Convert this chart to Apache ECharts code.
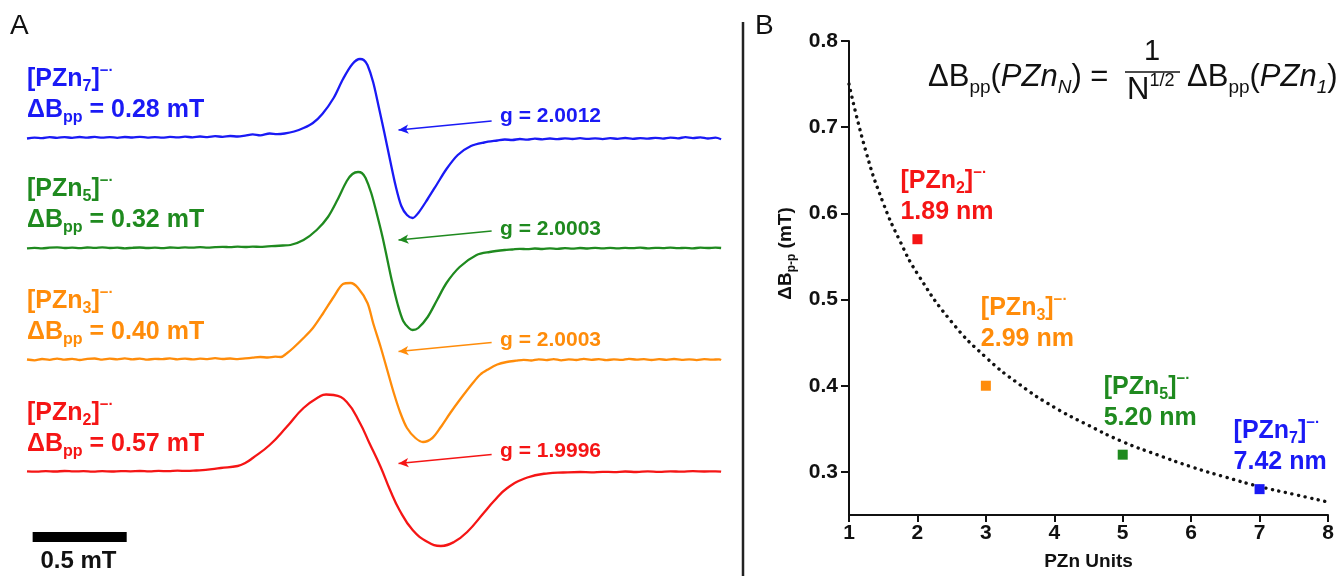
<!DOCTYPE html>
<html><head><meta charset="utf-8">
<script src="https://cdn.jsdelivr.net/npm/echarts@6/dist/echarts.min.js"></script>
<style>html,body{margin:0;padding:0;background:#fff}#c{width:1341px;height:576px}</style>
</head><body><div id="c"></div>
<script>
const FONT = '"Liberation Sans", Arial, Helvetica, sans-serif';

// ---------- Panel A data : EPR derivative spectra (field in mT, intensity a.u.) ----------
const specPZn7 = [[0.00,-0.5],[0.04,0.3],[0.08,-0.2],[0.12,0.8],[0.16,0.2],[0.20,0.9],[0.24,0.1],[0.28,1.0],[0.32,0.4],[0.36,1.1],[0.40,0.3],[0.44,0.9],[0.48,0.2],[0.52,1.0],[0.56,0.5],[0.60,1.2],[0.64,0.4],[0.68,0.8],[0.72,0.3],[0.76,1.1],[0.80,0.6],[0.84,1.3],[0.88,0.7],[0.92,1.5],[0.96,0.9],[1.00,1.8],[1.04,1.2],[1.08,2.0],[1.12,1.5],[1.16,2.4],[1.20,3.6],[1.24,2.6],[1.29,4.5],[1.33,3.8],[1.37,4.5],[1.42,6.5],[1.47,10],[1.52,15],[1.57,24],[1.63,40],[1.68,59],[1.73,74],[1.77,79],[1.79,78],[1.81,73],[1.84,56],[1.87,31],[1.90,5],[1.93,-22],[1.96,-48],[1.99,-68],[2.02,-77],[2.05,-80],[2.08,-75],[2.13,-61],[2.18,-46],[2.23,-31],[2.29,-17],[2.36,-8],[2.43,-4.5],[2.50,-2.5],[2.54,-1.5],[2.58,-2],[2.62,-1],[2.66,-1.6],[2.70,-0.6],[2.74,-1.4],[2.78,-0.5],[2.82,-1.2],[2.86,-0.3],[2.90,-1],[2.94,-0.2],[2.98,-0.9],[3.02,-0.3],[3.06,-1.1],[3.10,-0.2],[3.14,-0.8],[3.18,0],[3.22,-0.9],[3.26,-0.1],[3.30,-0.7],[3.34,0.2],[3.38,-0.6],[3.42,0.4],[3.46,-0.3],[3.50,0.8],[3.54,-0.1],[3.58,0.6],[3.62,-0.5],[3.66,0.3],[3.69,-1.2]];
const specPZn5 = [[0.00,-0.3],[0.04,0.2],[0.08,-0.4],[0.12,0.3],[0.16,0.6],[0.20,0],[0.24,0.4],[0.28,-0.2],[0.32,0.5],[0.36,0.1],[0.40,0.6],[0.44,0],[0.48,0.3],[0.52,-0.3],[0.56,0.2],[0.60,0.5],[0.64,0],[0.68,0.4],[0.72,-0.1],[0.76,0.5],[0.80,0.2],[0.84,0.6],[0.88,0.3],[0.92,0.8],[0.96,0.4],[1.00,0.9],[1.04,1.2],[1.08,0.8],[1.12,1.3],[1.16,1.0],[1.20,1.4],[1.24,1.1],[1.28,1.6],[1.32,2.0],[1.36,2.5],[1.40,3],[1.47,8],[1.54,18],[1.60,31],[1.65,48],[1.70,67],[1.73,74],[1.76,76],[1.78,75],[1.80,70],[1.83,55],[1.86,34],[1.89,11],[1.915,-11],[1.94,-33],[1.97,-56],[2.00,-73],[2.03,-80],[2.05,-82],[2.08,-80],[2.13,-69],[2.18,-52],[2.23,-35],[2.30,-19],[2.39,-7],[2.46,-4],[2.54,-2],[2.58,-1.5],[2.62,-0.8],[2.66,-1.2],[2.70,-0.5],[2.74,-1],[2.78,-0.3],[2.82,-0.8],[2.86,-0.2],[2.90,-0.6],[2.94,0],[2.98,-0.5],[3.02,0.1],[3.06,-0.3],[3.10,0.2],[3.14,-0.4],[3.18,0.1],[3.22,-0.2],[3.26,0.3],[3.30,-0.3],[3.34,0.2],[3.38,-0.1],[3.42,0.3],[3.46,-0.2],[3.50,0.2],[3.54,-0.3],[3.58,0.3],[3.62,0],[3.66,0.4],[3.69,0]];
const specPZn3 = [[0.00,0],[0.04,-0.8],[0.08,0.5],[0.12,-0.3],[0.16,0.9],[0.20,-0.2],[0.24,0.7],[0.28,-0.5],[0.32,0.6],[0.36,1.0],[0.40,-0.1],[0.44,0.8],[0.48,0.2],[0.52,1.1],[0.56,0.1],[0.60,0.9],[0.64,-0.2],[0.68,0.7],[0.72,0.3],[0.76,1.2],[0.80,0.2],[0.84,0.9],[0.88,0.1],[0.92,0.8],[0.96,0.4],[1.00,1.3],[1.04,0.5],[1.08,1.0],[1.12,0.4],[1.16,1.1],[1.20,1.8],[1.24,2.5],[1.28,2.0],[1.32,2.8],[1.35,2.5],[1.38,6],[1.415,11.5],[1.47,21.5],[1.52,31.5],[1.575,46.5],[1.63,62.5],[1.68,75.5],[1.72,76.5],[1.76,71.5],[1.81,56.5],[1.84,36.5],[1.88,12.5],[1.915,-10.5],[1.95,-33.5],[1.985,-53.5],[2.02,-68.5],[2.065,-78.5],[2.105,-82.5],[2.155,-78.5],[2.20,-67.5],[2.25,-53.5],[2.30,-40.5],[2.37,-23.5],[2.41,-15],[2.45,-10],[2.50,-5],[2.55,-2.5],[2.60,-1.2],[2.64,-0.3],[2.68,-1.0],[2.72,0.2],[2.76,-0.6],[2.80,0.4],[2.84,-0.8],[2.88,0.1],[2.92,-0.5],[2.96,0.6],[3.00,-0.3],[3.04,0.3],[3.08,-0.7],[3.12,0.2],[3.16,-0.4],[3.20,0.7],[3.24,-0.2],[3.28,0.4],[3.32,-0.5],[3.36,0.3],[3.40,-0.3],[3.44,0.5],[3.48,-0.4],[3.52,0.2],[3.56,-0.6],[3.60,0.3],[3.64,-0.2],[3.68,0.2],[3.69,-0.5]];
const specPZn2 = [[0.00,0.2],[0.05,-0.2],[0.10,0.4],[0.15,0],[0.20,0.5],[0.25,0.1],[0.30,0.3],[0.35,-0.1],[0.40,0.3],[0.45,0],[0.50,0.4],[0.55,0.2],[0.60,0.5],[0.65,0.1],[0.70,0.6],[0.75,0.3],[0.80,0.8],[0.85,0.6],[0.90,1.0],[0.95,1.6],[1.03,3.5],[1.12,5.5],[1.16,8.5],[1.20,13.5],[1.29,26.5],[1.38,44.5],[1.47,63.5],[1.56,75.5],[1.59,77],[1.63,76.5],[1.70,69.5],[1.77,48.5],[1.82,28.5],[1.88,4.5],[1.93,-18.5],[1.98,-38.5],[2.05,-58.5],[2.13,-70.5],[2.20,-74.5],[2.27,-70.5],[2.34,-60.5],[2.43,-41],[2.48,-30],[2.55,-17],[2.66,-6],[2.77,-1.8],[2.85,-1],[2.94,-0.5],[3.00,-0.8],[3.06,-0.3],[3.12,-0.6],[3.18,0],[3.24,-0.5],[3.30,0.1],[3.36,-0.3],[3.42,0.2],[3.48,-0.2],[3.54,0.3],[3.60,0],[3.66,0.2],[3.69,-0.2]];

const spectraSub = ['7', '5', '3', '2'];
const spectraWidths = ['0.28', '0.32', '0.40', '0.57'];
const gValues = ['2.0012', '2.0003', '2.0003', '1.9996'];
const spectraOffsets = [422, 312, 200.5, 88.5];
const spectra = [specPZn7, specPZn5, specPZn3, specPZn2];
const scaleBarField = [0.03, 0.53];   // 0.5 mT
const scaleBarLevel = 23;
const arrowTail = [2.47, 17];
const arrowTip = [1.975, 8];

// ---------- Panel B data ----------
const pznUnits = [2, 3, 5, 7];
const dBpp = [0.57, 0.40, 0.32, 0.28];
const pointSub = ['2', '3', '5', '7'];
const conjLength = ['1.89 nm', '2.99 nm', '5.20 nm', '7.42 nm'];
const fitN = [1, 1.25, 1.5, 1.75, 2, 2.5, 3, 3.5, 4, 4.5, 5, 5.5, 6, 6.5, 7, 7.5, 8];
const fitVal = [0.750, 0.671, 0.612, 0.567, 0.530, 0.474, 0.433, 0.401, 0.375, 0.354, 0.335, 0.320, 0.306, 0.294, 0.283, 0.274, 0.265];
const xTicks = [1, 2, 3, 4, 5, 6, 7, 8];
const yTicks = [0.3, 0.4, 0.5, 0.6, 0.7, 0.8];

// ---------- styling ----------
const specColors = ['#1a1af5', '#1f8a1f', '#ff8c0a', '#f51515'];
const specSmooth = [0.3, 0.3, 0.3, 0.45];
const pointColors = ['#f51515', '#ff8c0a', '#1f8a1f', '#1a1af5'];
const labelOffsets = [[-17, -1.5], [-5, -21.5], [-19, -11.5], [-26, -1.5]];
const labelTopsA = [63.5, 173.5, 285.5, 397.5];
const gLabelY = [116.5, 229.5, 340, 451.5];
const INK = '#111';

const chart = echarts.init(document.getElementById('c'), null, {renderer: 'canvas'});

const series = [];
spectra.forEach((sp, i) => {
  const off = spectraOffsets[i];
  series.push({
    type: 'line', xAxisIndex: 0, yAxisIndex: 0,
    data: sp.map(p => [p[0], p[1] + off]),
    showSymbol: false, symbol: 'none', smooth: specSmooth[i],
    lineStyle: {color: specColors[i], width: 2.3, join: 'round'},
    silent: true, z: 3,
    markLine: {
      silent: true, symbol: ['none', 'arrow'], symbolSize: [7, 10],
      label: {show: false},
      lineStyle: {color: specColors[i], width: 1.3, type: 'solid', opacity: 1},
      data: [[{coord: [arrowTail[0], off + arrowTail[1]]}, {coord: [arrowTip[0], off + arrowTip[1]]}]]
    }
  });
});
series.push({
  type: 'line', xAxisIndex: 0, yAxisIndex: 0,
  data: scaleBarField.map(f => [f, scaleBarLevel]),
  symbol: 'none', lineStyle: {color: '#000', width: 10, cap: 'butt'}, silent: true
});
series.push({
  type: 'line', xAxisIndex: 1, yAxisIndex: 1,
  data: fitN.map((n, i) => [n, fitVal[i]]),
  smooth: true, symbol: 'none', silent: true, z: 2,
  lineStyle: {color: INK, width: 3.4, type: [0.1, 6.6], cap: 'round'}
});

const richLabel = {
  a: {fontSize: 25, fontWeight: 'bold', fontFamily: FONT, lineHeight: 31},
  s: {fontSize: 16, fontWeight: 'bold', fontFamily: FONT, lineHeight: 10, verticalAlign: 'bottom'},
  u: {fontSize: 15, fontWeight: 'bold', fontFamily: FONT, lineHeight: 12, verticalAlign: 'top'}
};
series.push({
  type: 'scatter', xAxisIndex: 1, yAxisIndex: 1, symbol: 'rect', symbolSize: 10, z: 4,
  itemStyle: {opacity: 1},
  data: pznUnits.map((n, i) => ({
    value: [n, dBpp[i]],
    itemStyle: {color: pointColors[i], opacity: 1},
    label: {
      show: true, position: 'top', align: 'left', offset: labelOffsets[i],
      color: pointColors[i], opacity: 1,
      formatter: '{a|[PZn}{s|' + pointSub[i] + '}{a|]}{u|−·}\n{a|' + conjLength[i] + '}',
      rich: richLabel
    }
  }))
});

// graphic: panel A labels
const graphic = [];
const richG = (c) => ({
  a: {fontSize: 25, fontWeight: 'bold', fontFamily: FONT, lineHeight: 31, fill: c},
  s: {fontSize: 16, fontWeight: 'bold', fontFamily: FONT, lineHeight: 10, verticalAlign: 'bottom', fill: c},
  u: {fontSize: 15, fontWeight: 'bold', fontFamily: FONT, lineHeight: 12, verticalAlign: 'top', fill: c}
});
spectra.forEach((sp, i) => {
  graphic.push({
    type: 'text', x: 27, y: labelTopsA[i], silent: true,
    style: {
      text: '{a|[PZn}{s|' + spectraSub[i] + '}{a|]}{u|−·}\n{a|ΔB}{s|pp}{a| = ' + spectraWidths[i] + ' mT}',
      rich: richG(specColors[i]), fill: specColors[i], align: 'left', verticalAlign: 'top'
    }
  });
  graphic.push({
    type: 'text', x: 500, y: gLabelY[i], silent: true,
    style: {text: 'g = ' + gValues[i], fill: specColors[i], fontSize: 21, fontWeight: 'bold', fontFamily: FONT, align: 'left', verticalAlign: 'middle'}
  });
});
graphic.push({type: 'text', x: 78.5, y: 561, silent: true,
  style: {text: '0.5 mT', fill: INK, fontSize: 24, fontWeight: 'bold', fontFamily: FONT, align: 'center', verticalAlign: 'middle'}});
graphic.push({type: 'text', x: 10, y: 26, silent: true,
  style: {text: 'A', fill: INK, fontSize: 28, fontFamily: FONT, align: 'left', verticalAlign: 'middle'}});
graphic.push({type: 'text', x: 755, y: 26, silent: true,
  style: {text: 'B', fill: INK, fontSize: 28, fontFamily: FONT, align: 'left', verticalAlign: 'middle'}});
graphic.push({type: 'line', silent: true, shape: {x1: 743, y1: 22, x2: 743, y2: 576}, style: {stroke: '#222', lineWidth: 2.5}});

// formula
const richF = {
  m: {fontSize: 31, fontFamily: FONT, lineHeight: 40, fill: INK},
  s: {fontSize: 19, fontFamily: FONT, lineHeight: 25, verticalAlign: 'bottom', fill: INK},
  i: {fontSize: 31, fontFamily: FONT, fontStyle: 'italic', lineHeight: 40, fill: INK},
  is: {fontSize: 19, fontFamily: FONT, fontStyle: 'italic', lineHeight: 25, verticalAlign: 'bottom', fill: INK},
  u: {fontSize: 18, fontFamily: FONT, lineHeight: 29, verticalAlign: 'top', fill: INK},
  n: {fontSize: 31, fontFamily: FONT, lineHeight: 36, fill: INK}
};
graphic.push({type: 'text', x: 928, y: 57, silent: true,
  style: {text: '{m|ΔB}{s|pp}{m|(}{i|PZn}{is|N}{m|) =}', rich: richF, align: 'left', verticalAlign: 'top'}});
graphic.push({type: 'text', x: 1152, y: 52, silent: true,
  style: {text: '1', fill: INK, fontSize: 29, fontFamily: FONT, align: 'center', verticalAlign: 'middle'}});
graphic.push({type: 'line', silent: true, shape: {x1: 1125, y1: 72, x2: 1180, y2: 72}, style: {stroke: INK, lineWidth: 1.6}});
graphic.push({type: 'text', x: 1127, y: 90, silent: true,
  style: {text: '{n|N}{u|1/2}', rich: richF, align: 'left', verticalAlign: 'middle'}});
graphic.push({type: 'text', x: 1187, y: 57, silent: true,
  style: {text: '{m|ΔB}{s|pp}{m|(}{i|PZn}{is|1}{m|)}', rich: richF, align: 'left', verticalAlign: 'top'}});

const axisLabelStyle = {color: INK, fontSize: 21, fontWeight: 'bold', fontFamily: FONT};

chart.setOption({
  animation: false,
  backgroundColor: '#fff',
  grid: [
    {left: 27, top: 40, width: 696, height: 520},
    {left: 849, top: 41, width: 479, height: 477}
  ],
  xAxis: [
    {gridIndex: 0, type: 'value', min: 0, max: 3.7, show: false},
    {gridIndex: 1, type: 'value', min: 1, max: 8, interval: 1,
      name: 'PZn Units', nameLocation: 'middle', nameGap: 37,
      nameTextStyle: {color: INK, fontSize: 19, fontWeight: 'bold', fontFamily: FONT},
      axisLine: {onZero: false, lineStyle: {color: INK, width: 2}},
      axisTick: {show: true, length: 7, lineStyle: {color: INK, width: 2}, customValues: xTicks},
      axisLabel: Object.assign({margin: 8, customValues: xTicks}, axisLabelStyle),
      splitLine: {show: false}}
  ],
  yAxis: [
    {gridIndex: 0, type: 'value', min: 0, max: 520, show: false},
    {gridIndex: 1, type: 'value', min: 0.25, max: 0.8,
      name: '{a|ΔB}{s|p-p}{a| (mT)}', nameLocation: 'middle', nameGap: 51,
      nameTextStyle: {
        padding: [0, 0, 0, 49],
        rich: {
          a: {fontSize: 19, fontWeight: 'bold', fontFamily: FONT, color: INK, lineHeight: 24},
          s: {fontSize: 12, fontWeight: 'bold', fontFamily: FONT, color: INK, lineHeight: 10, verticalAlign: 'bottom'}
        }
      },
      axisLine: {onZero: false, lineStyle: {color: INK, width: 2}},
      axisTick: {show: true, length: 8, lineStyle: {color: INK, width: 2}, customValues: yTicks},
      axisLabel: Object.assign({margin: 11, customValues: yTicks, formatter: v => v.toFixed(1)}, axisLabelStyle),
      splitLine: {show: false}}
  ],
  series: series,
  graphic: graphic
});
</script></body></html>
